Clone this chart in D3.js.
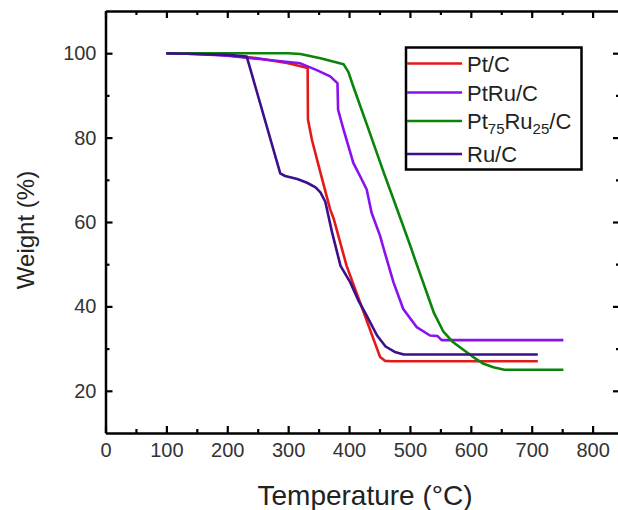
<!DOCTYPE html>
<html>
<head>
<meta charset="utf-8">
<script src="https://cdn.jsdelivr.net/npm/d3@7"></script>
<style>
  html, body { margin: 0; padding: 0; background: #fff; }
  svg { display: block; font-family: "Liberation Sans", Arial, sans-serif; }
</style>
</head>
<body>
<svg id="chart" width="618" height="510"></svg>
<script>
// Thermogravimetric curves: [temperature °C, weight %]
const seriesNames = ["Pt/C", "PtRu/C", "Pt75Ru25/C", "Ru/C"];
const seriesColors = ["#e41a1a", "#8a10f0", "#0a840a", "#3c0f8c"];

const ptC = [
  [100, 100], [150, 99.8], [200, 99.5], [250, 98.8], [300, 97.6], [332, 96.5],
  [332.5, 84.3], [339, 79.5], [353, 71.7], [369, 63], [375, 60.7], [396, 49.6],
  [424, 38.6], [440, 32.3], [451, 28], [459, 27.1], [470, 27], [710, 27]
];
const ptRuC = [
  [100, 100], [150, 99.8], [200, 99.4], [249, 98.7], [320, 97.6], [347, 96],
  [369, 94.5], [381, 92.9], [382, 86.6], [391, 81.9], [407, 74], [418, 70.9],
  [429, 67.7], [437, 62.2], [451, 56.7], [457, 53.6], [473, 45.7], [489, 39.4],
  [511, 35.1], [533, 33.1], [545, 33], [552, 32], [752, 32]
];
const pt75Ru25C = [
  [100, 100], [300, 100], [320, 99.8], [353, 98.8], [391, 97.4], [399, 95.5],
  [407, 92.1], [429, 83.2], [457, 71.7], [473, 65.4], [500, 54.6], [511, 50],
  [539, 38.6], [555, 34], [571, 31.5], [590, 29.5], [604, 28], [621, 26.4],
  [637, 25.6], [655, 25], [752, 25]
];
const ruC = [
  [100, 100], [150, 99.8], [200, 99.6], [232, 99.2], [287, 71.5], [295, 70.9],
  [315, 70.2], [331, 69.3], [345, 68.2], [353, 67], [361, 64.8], [372, 57.6],
  [386, 49.6], [402, 45.7], [415, 41.5], [429, 37.8], [446, 33.1], [460, 30.5],
  [475, 29.2], [490, 28.6], [710, 28.6]
];
const seriesData = [ptC, ptRuC, pt75Ru25C, ruC];

const xMajorTicks = [0, 100, 200, 300, 400, 500, 600, 700, 800];
const xMinorTicks = [50, 150, 250, 350, 450, 550, 650, 750];
const yMajorTicks = [20, 40, 60, 80, 100];
const yMinorTicks = [30, 50, 70, 90];

const svg = d3.select("#chart");
const plotLeft = 105.5, plotRight = 620, plotTop = 11, plotBottom = 433;

const x = d3.scaleLinear().domain([0, 845]).range([plotLeft, plotRight]);
const y = d3.scaleLinear().domain([10, 110]).range([plotBottom, plotTop]);

const majorLen = 7, minorLen = 4;

function styleAxis(g) {
  g.selectAll("path.domain").attr("stroke", "#000").attr("stroke-width", 2.5);
  g.selectAll(".tick line").attr("stroke", "#000").attr("stroke-width", 2.2);
  g.selectAll(".tick text").attr("fill", "#333").style("font-size", "20px")
    .style("font-family", "'Liberation Sans', Arial, sans-serif");
}

// bottom axis, labelled
svg.append("g").attr("transform", `translate(0,${plotBottom})`)
  .call(d3.axisBottom(x).tickValues(xMajorTicks).tickSizeInner(-majorLen).tickSizeOuter(0)
    .tickPadding(10).tickFormat(d3.format("d")))
  .call(styleAxis);
svg.append("g").attr("transform", `translate(0,${plotBottom})`)
  .call(d3.axisBottom(x).tickValues(xMinorTicks).tickSizeInner(-minorLen).tickSizeOuter(0).tickFormat(""))
  .call(g => g.select("path.domain").remove())
  .call(styleAxis);

// top axis, mirrored ticks
svg.append("g").attr("transform", `translate(0,${plotTop})`)
  .call(d3.axisTop(x).tickValues(xMajorTicks).tickSizeInner(-majorLen).tickSizeOuter(0).tickFormat(""))
  .call(styleAxis);
svg.append("g").attr("transform", `translate(0,${plotTop})`)
  .call(d3.axisTop(x).tickValues(xMinorTicks).tickSizeInner(-minorLen).tickSizeOuter(0).tickFormat(""))
  .call(g => g.select("path.domain").remove())
  .call(styleAxis);

// left axis, labelled
svg.append("g").attr("transform", `translate(${plotLeft},0)`)
  .call(d3.axisLeft(y).tickValues(yMajorTicks).tickSizeInner(-majorLen).tickSizeOuter(0)
    .tickPadding(9).tickFormat(d3.format("d")))
  .call(styleAxis);
svg.append("g").attr("transform", `translate(${plotLeft},0)`)
  .call(d3.axisLeft(y).tickValues(yMinorTicks).tickSizeInner(-minorLen).tickSizeOuter(0).tickFormat(""))
  .call(g => g.select("path.domain").remove())
  .call(styleAxis);

// right axis, mirrored ticks
svg.append("g").attr("transform", `translate(${plotRight},0)`)
  .call(d3.axisRight(y).tickValues(yMajorTicks).tickSizeInner(-majorLen).tickSizeOuter(0).tickFormat(""))
  .call(styleAxis);
svg.append("g").attr("transform", `translate(${plotRight},0)`)
  .call(d3.axisRight(y).tickValues(yMinorTicks).tickSizeInner(-minorLen).tickSizeOuter(0).tickFormat(""))
  .call(g => g.select("path.domain").remove())
  .call(styleAxis);

// curves
const line = d3.line().x(d => x(d[0])).y(d => y(d[1])).curve(d3.curveLinear);
svg.append("g").selectAll("path.series")
  .data(seriesData)
  .join("path")
  .attr("class", "series")
  .attr("fill", "none")
  .attr("stroke", (d, i) => seriesColors[i])
  .attr("stroke-width", 2.6)
  .attr("stroke-linejoin", "round")
  .attr("d", line);

// axis titles
svg.append("text")
  .attr("x", 365).attr("y", 505)
  .attr("text-anchor", "middle")
  .attr("fill", "#222")
  .style("font-size", "28px")
  .text("Temperature (°C)");
svg.append("text")
  .attr("transform", "translate(34,230) rotate(-90)")
  .attr("text-anchor", "middle")
  .attr("fill", "#222")
  .style("font-size", "24px")
  .text("Weight (%)");

// legend
const lg = svg.append("g");
lg.append("rect")
  .attr("x", 406).attr("y", 47.5).attr("width", 175.5).attr("height", 122)
  .attr("fill", "#fff").attr("stroke", "#000").attr("stroke-width", 2.5);
const rowY = [63.5, 92.5, 121, 154];
seriesNames.forEach((name, i) => {
  lg.append("line")
    .attr("x1", 407).attr("x2", 462)
    .attr("y1", rowY[i]).attr("y2", rowY[i])
    .attr("stroke", seriesColors[i]).attr("stroke-width", 2.6);
  const t = lg.append("text")
    .attr("x", 467).attr("y", rowY[i] + 8)
    .attr("fill", "#222")
    .style("font-size", "22px");
  if (name === "Pt75Ru25/C") {
    t.append("tspan").text("Pt");
    t.append("tspan").attr("dy", 5).style("font-size", "15px").text("75");
    t.append("tspan").attr("dy", -5).text("Ru");
    t.append("tspan").attr("dy", 5).style("font-size", "15px").text("25");
    t.append("tspan").attr("dy", -5).text("/C");
  } else {
    t.text(name);
  }
});
</script>
</body>
</html>
